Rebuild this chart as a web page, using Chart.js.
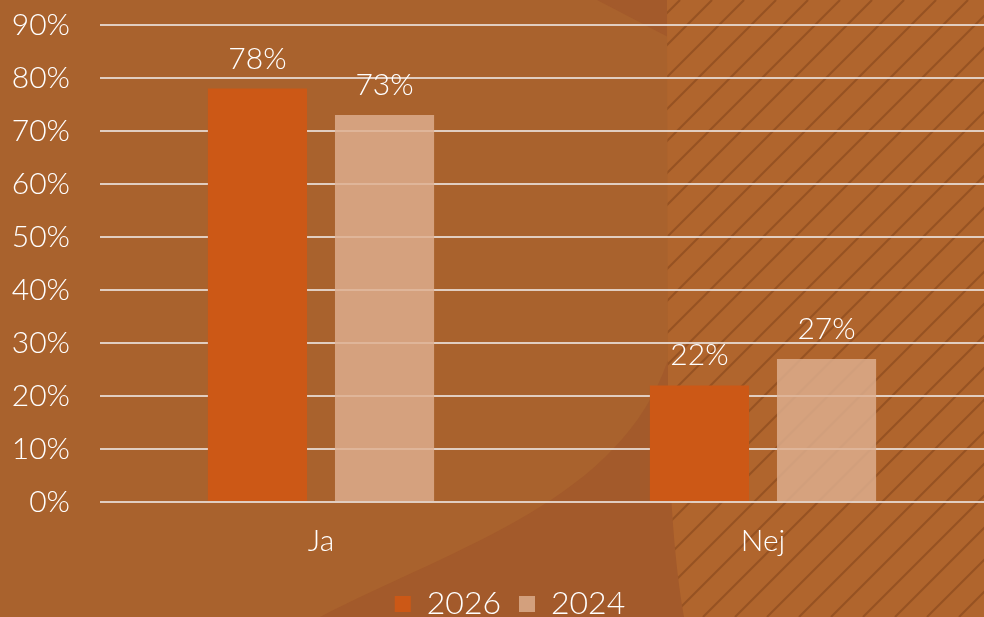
<!DOCTYPE html>
<html>
<head>
<meta charset="utf-8">
<script src="https://cdn.jsdelivr.net/npm/chart.js@4"></script>
<style>
  html, body { margin: 0; padding: 0; background: #A9622D; }
  #wrap { width: 984px; height: 617px; position: relative; }
</style>
</head>
<body>
<div id="wrap"><canvas id="c" width="984" height="617"></canvas></div>
<script>
const categories = ['Ja', 'Nej'];
const seriesNames = ['2026', '2024'];
const values2026 = [78, 22];
const values2024 = [73, 27];
const yTicks = [0, 10, 20, 30, 40, 50, 60, 70, 80, 90];

const FONT = 'Lato, "Open Sans", sans-serif';

const bgPlugin = {
  id: 'bg',
  afterLayout(chart) {
    if (chart.legend) { chart.legend.left += 18; chart.legend.right += 18; }
  },
  beforeDraw(chart) {
    const ctx = chart.ctx;
    const W = chart.width, H = chart.height;
    ctx.save();
    ctx.fillStyle = '#A9622D';
    ctx.fillRect(0, 0, W, H);
    // darker lower shape
    ctx.fillStyle = '#A35A2B';
    ctx.beginPath();
    ctx.moveTo(320, H);
    ctx.bezierCurveTo(460, 545, 620, 500, 668, 360);
    ctx.lineTo(684, H);
    ctx.closePath();
    ctx.fill();
    // darker top triangle
    ctx.beginPath();
    ctx.moveTo(597, 0);
    ctx.lineTo(668, 0);
    ctx.lineTo(668, 37);
    ctx.closePath();
    ctx.fill();
    // hatch region
    ctx.beginPath();
    ctx.moveTo(667, 0);
    ctx.lineTo(W, 0);
    ctx.lineTo(W, H);
    ctx.lineTo(684, H);
    ctx.quadraticCurveTo(670, 540, 668, 400);
    ctx.closePath();
    ctx.fillStyle = '#B0652D';
    ctx.fill();
    ctx.clip();
    ctx.filter = 'blur(0.7px)';
    ctx.strokeStyle = 'rgba(115,58,22,0.42)';
    ctx.lineWidth = 2.2;
    for (let x0 = 520; x0 < W + H; x0 += 32) {
      ctx.beginPath();
      ctx.moveTo(x0 - H, H);
      ctx.lineTo(x0, 0);
      ctx.stroke();
    }
    ctx.filter = 'none';
    ctx.restore();
  }
};

const valueLabels = {
  id: 'valueLabels',
  afterDatasetsDraw(chart) {
    const ctx = chart.ctx;
    ctx.save();
    ctx.fillStyle = '#FFFFFF';
    ctx.font = '300 30px ' + FONT;
    ctx.textAlign = 'center';
    ctx.textBaseline = 'alphabetic';
    chart.data.datasets.forEach((ds, di) => {
      const meta = chart.getDatasetMeta(di);
      meta.data.forEach((el, i) => {
        ctx.fillText(ds.data[i] + '%', el.x, el.y - 20);
      });
    });
    ctx.restore();
  }
};

new Chart(document.getElementById('c'), {
  type: 'bar',
  data: {
    labels: categories,
    datasets: [
      { label: seriesNames[0], data: values2026, backgroundColor: '#CC5816', borderWidth: 0 },
      { label: seriesNames[1], data: values2024, backgroundColor: 'rgba(222,176,144,0.82)', borderWidth: 0 }
    ]
  },
  options: {
    responsive: false,
    animation: false,
    devicePixelRatio: 1,
    categoryPercentage: 0.575,
    barPercentage: 0.78,
    layout: { padding: { top: 25, right: 0, left: 0, bottom: -13 } },
    plugins: {
      tooltip: { enabled: false },
      legend: {
        position: 'bottom',
        labels: {
          color: '#FFFFFF',
          font: { family: FONT, size: 32, weight: '300' },
          boxWidth: 16,
          boxHeight: 16,
          padding: 18
        }
      }
    },
    scales: {
      x: {
        grid: { display: false },
        border: { display: false },
        ticks: {
          color: '#FFFFFF',
          font: { family: FONT, size: 30, weight: '300' },
          padding: 13
        },
        afterFit(scale) { scale.height = 68; }
      },
      y: {
        min: yTicks[0],
        max: yTicks[yTicks.length - 1],
        afterBuildTicks(scale) { scale.ticks = yTicks.map(v => ({ value: v })); },
        grid: { color: 'rgba(235,225,218,0.85)', lineWidth: 2, drawTicks: false },
        border: { display: false },
        ticks: {
          color: '#FFFFFF',
          font: { family: FONT, size: 30, weight: '300' },
          padding: 30,
          callback: v => v + '%'
        },
        afterFit(scale) {
          scale.width = 100;
          scale.paddingTop = 0;
          scale.paddingBottom = 0;
        }
      }
    }
  },
  plugins: [bgPlugin, valueLabels]
});
</script>
</body>
</html>
